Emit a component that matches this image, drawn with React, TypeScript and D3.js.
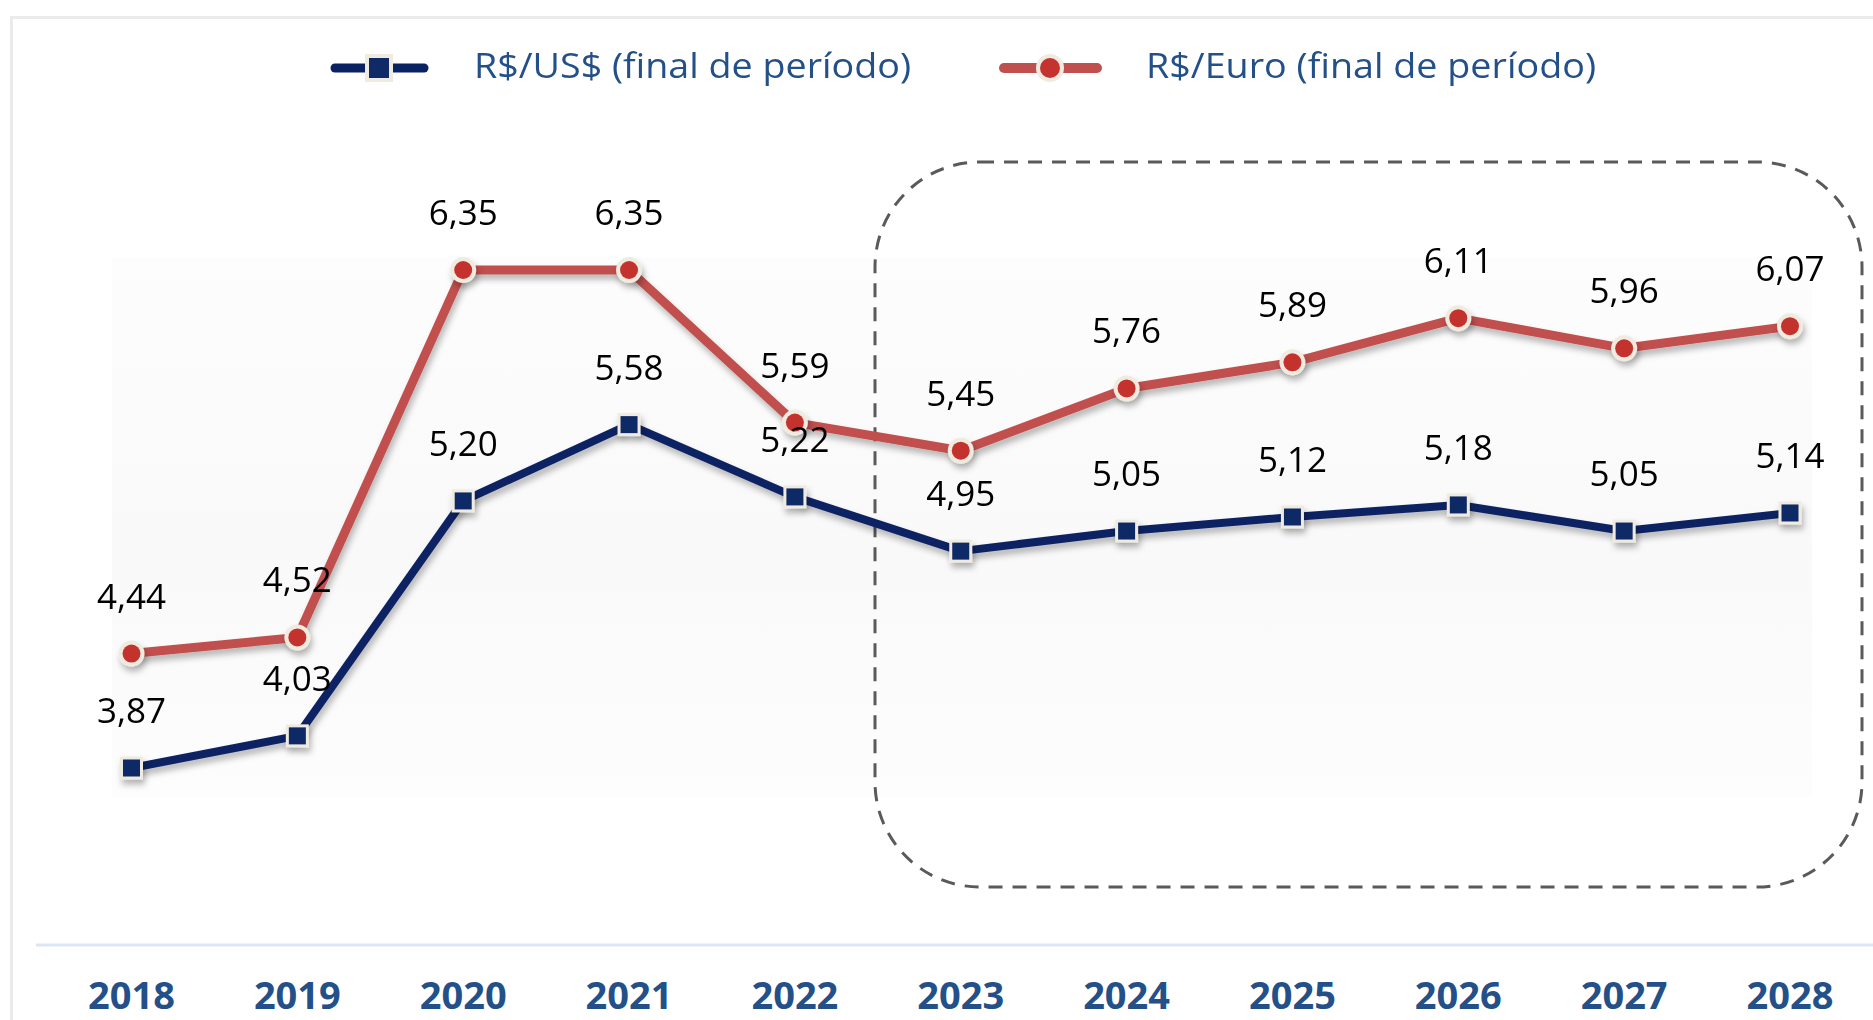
import * as d3 from "d3";

const WIDTH = 1873;
const HEIGHT = 1020;

const YEARS = ["2018", "2019", "2020", "2021", "2022", "2023", "2024", "2025", "2026", "2027", "2028"];
const USD = [3.87, 4.03, 5.2, 5.58, 5.22, 4.95, 5.05, 5.12, 5.18, 5.05, 5.14];
const EURO = [4.44, 4.52, 6.35, 6.35, 5.59, 5.45, 5.76, 5.89, 6.11, 5.96, 6.07];
const LEGEND = ["R$/US$ (final de período)", "R$/Euro (final de período)"];

const NAVY = "#0b2262";
const NAVY_MARK = "#0f2a66";
const RED = "#c0504d";
const RED_MARK = "#c4332f";
const CREAM = "#efebe0";
const TEXT_BLUE = "#24508a";
const FONT = "'Open Sans', 'Noto Sans', sans-serif";

const fmt = (v: number) => d3.format(".2f")(v).replace(".", ",");

export default function App() {
  const x = d3.scalePoint<string>().domain(YEARS).range([131.5, 1790]);
  const y = d3.scaleLinear().domain([3.87, 6.35]).range([768, 270]);

  const line = d3
    .line<number>()
    .x((_, i) => x(YEARS[i]) as number)
    .y((v) => y(v));

  const sq = 23;
  const sqIn = 17;

  return (
    <svg
      width={WIDTH}
      height={HEIGHT}
      viewBox={`0 0 ${WIDTH} ${HEIGHT}`}
      style={{ position: "absolute", top: 0, left: 0, display: "block", background: "#fff" }}
    >
      <defs>
        <filter id="shadow" x="-10%" y="-20%" width="120%" height="150%">
          <feDropShadow dx="2" dy="5" stdDeviation="3" floodColor="#000" floodOpacity="0.28" />
        </filter>
        <linearGradient id="plotBg" x1="0" x2="0" y1="0" y2="1">
          <stop offset="0%" stopColor="#fdfdfd" />
          <stop offset="55%" stopColor="#f9f9f9" />
          <stop offset="100%" stopColor="#fdfdfd" />
        </linearGradient>
      </defs>

      {/* outer frame */}
      <path d={`M11.5 ${HEIGHT} V17.5 H${WIDTH}`} fill="none" stroke="#ebebeb" strokeWidth="3" />

      {/* faint plot background */}
      <rect x={112} y={257} width={1700} height={540} fill="url(#plotBg)" />

      {/* forecast box */}
      <rect
        x={875}
        y={162}
        width={987}
        height={725}
        rx={105}
        ry={105}
        fill="none"
        stroke="#5a5a5a"
        strokeWidth="3"
        strokeDasharray="14 10"
      />

      {/* axis line */}
      <line x1={36} x2={WIDTH} y1={945} y2={945} stroke="#dce6f2" strokeWidth="3" />

      {YEARS.map((yr) => (
        <text
          key={yr}
          x={x(yr)}
          y={1009}
          textAnchor="middle"
          fontFamily={FONT}
          fontWeight="bold"
          fontSize="38"
          fill={TEXT_BLUE}
        >
          {yr}
        </text>
      ))}

      {/* series lines */}
      <g filter="url(#shadow)">
        <path d={line(USD) ?? ""} fill="none" stroke={NAVY} strokeWidth="8" strokeLinejoin="round" />
        <path d={line(EURO) ?? ""} fill="none" stroke={RED} strokeWidth="9" strokeLinejoin="round" />
      </g>

      {/* markers */}
      <g filter="url(#shadow)">
        {USD.map((v, i) => (
          <g key={`u${i}`} transform={`translate(${x(YEARS[i])},${y(v)})`}>
            <rect x={-sq / 2} y={-sq / 2} width={sq} height={sq} fill={CREAM} />
            <rect x={-sqIn / 2} y={-sqIn / 2} width={sqIn} height={sqIn} fill={NAVY_MARK} />
          </g>
        ))}
        {EURO.map((v, i) => (
          <g key={`e${i}`} transform={`translate(${x(YEARS[i])},${y(v)})`}>
            <circle r={13} fill={CREAM} />
            <circle r={9} fill={RED_MARK} />
          </g>
        ))}
      </g>

      {/* data labels */}
      {[USD, EURO].map((series, s) =>
        series.map((v, i) => (
          <text
            key={`l${s}-${i}`}
            x={x(YEARS[i])}
            y={y(v) - 45}
            textAnchor="middle"
            fontFamily={FONT}
            fontSize="35"
            fill="#000"
          >
            {fmt(v)}
          </text>
        ))
      )}

      {/* legend */}
      <g>
        <line x1={335} x2={424} y1={68} y2={68} stroke={NAVY} strokeWidth="9" strokeLinecap="round" />
        <rect x={365} y={54} width={28} height={28} fill={CREAM} />
        <rect x={369} y={58} width={20} height={20} fill={NAVY_MARK} />
        <text
          x={474}
          y={78}
          fontFamily={FONT}
          fontSize="34"
          fill={TEXT_BLUE}
          textLength={437}
          lengthAdjust="spacingAndGlyphs"
        >
          {LEGEND[0]}
        </text>

        <line x1={1004} x2={1097} y1={68} y2={68} stroke={RED} strokeWidth="10" strokeLinecap="round" />
        <circle cx={1050} cy={68} r={14} fill={CREAM} />
        <circle cx={1050} cy={68} r={10} fill={RED_MARK} />
        <text
          x={1146}
          y={78}
          fontFamily={FONT}
          fontSize="34"
          fill={TEXT_BLUE}
          textLength={450}
          lengthAdjust="spacingAndGlyphs"
        >
          {LEGEND[1]}
        </text>
      </g>
    </svg>
  );
}
